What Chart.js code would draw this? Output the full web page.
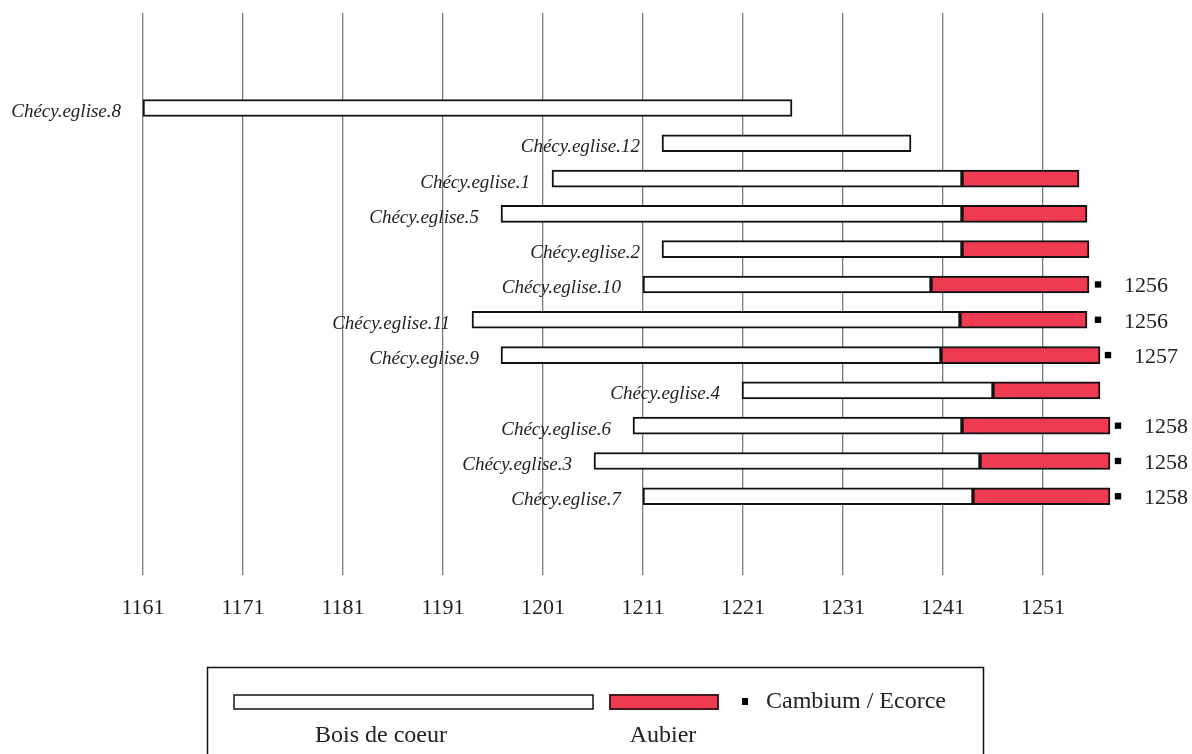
<!DOCTYPE html>
<html>
<head>
<meta charset="utf-8">
<title>Chécy - église</title>
<script src="https://cdn.jsdelivr.net/npm/chart.js@4/dist/chart.umd.min.js"></script>
<style>
  html, body { margin: 0; padding: 0; background: #fff; }
  #wrap { width: 1192px; height: 754px; overflow: hidden; }
</style>
</head>
<body>
<div id="wrap"><canvas id="chart" width="1192" height="754"></canvas></div>
<script>
// samples, top to bottom
const samples = ['Chécy.eglise.8', 'Chécy.eglise.12', 'Chécy.eglise.1', 'Chécy.eglise.5',
  'Chécy.eglise.2', 'Chécy.eglise.10', 'Chécy.eglise.11', 'Chécy.eglise.9',
  'Chécy.eglise.4', 'Chécy.eglise.6', 'Chécy.eglise.3', 'Chécy.eglise.7'];

// heartwood (bois de coeur) first / last year
const heartStart = [1161, 1212.9, 1201.9, 1196.8, 1212.9, 1211, 1193.9, 1196.8, 1220.9, 1210, 1206.1, 1211];
const heartEnd   = [1225.9, 1237.8, 1242.9, 1242.9, 1242.9, 1239.8, 1242.7, 1240.8, 1246, 1242.9, 1244.7, 1244];
// sapwood (aubier) last year, null = no sapwood
const sapEnd     = [null, null, 1254.6, 1255.4, 1255.6, 1255.6, 1255.4, 1256.7, 1256.7, 1257.7, 1257.7, 1257.7];
// cambium / bark felling years, null = none
const cambiumYear = [null, null, null, null, null, 1256, 1256, 1257, null, 1258, 1258, 1258];

const yearTicks = [1161, 1171, 1181, 1191, 1201, 1211, 1221, 1231, 1241, 1251];

const SAP_RED = '#EE3B52';

const heartData = samples.map((s, i) => ({ x: [heartStart[i], heartEnd[i]], y: i }));
const sapData = [];
samples.forEach((s, i) => { if (sapEnd[i] != null) sapData.push({ x: [heartEnd[i], sapEnd[i]], y: i }); });
const cambiumData = [];
samples.forEach((s, i) => {
  // mark drawn in the middle of the ring year
  if (cambiumYear[i] != null) cambiumData.push({ x: cambiumYear[i] + 0.5, y: i, year: cambiumYear[i] });
});

// sample names left of each bar, felling years right of the markers
const labelsPlugin = {
  id: 'labelsPlugin',
  afterDatasetsDraw(chart) {
    const ctx = chart.ctx, xs = chart.scales.x, ys = chart.scales.y;
    ctx.save();
    ctx.fillStyle = '#222';
    ctx.font = 'italic 19px "Liberation Serif", serif';
    ctx.textAlign = 'right';
    ctx.textBaseline = 'middle';
    samples.forEach((name, i) => {
      ctx.fillText(name, xs.getPixelForValue(heartStart[i]) - 22, ys.getPixelForValue(i) + 4);
    });
    ctx.font = '22px "Liberation Serif", serif';
    ctx.textAlign = 'left';
    cambiumData.forEach(p => {
      ctx.fillText(String(p.year), xs.getPixelForValue(p.x) + 26, ys.getPixelForValue(p.y) + 2);
    });
    ctx.restore();
  }
};

// boxed legend under the axis
const legendBox = {
  id: 'legendBox',
  afterDraw(chart) {
    const ctx = chart.ctx;
    ctx.save();
    ctx.strokeStyle = '#111';
    ctx.lineWidth = 1.5;
    ctx.strokeRect(207.5, 667.5, 776, 100);

    ctx.fillStyle = '#fff';
    ctx.fillRect(233, 694, 361, 16);
    ctx.strokeRect(234, 695, 359, 14);
    ctx.fillStyle = SAP_RED;
    ctx.fillRect(609, 694, 110, 16);
    ctx.strokeRect(610, 695, 108, 14);
    ctx.fillStyle = '#000';
    ctx.fillRect(742, 698, 6, 7);

    ctx.fillStyle = '#222';
    ctx.font = '24px "Liberation Serif", serif';
    ctx.textBaseline = 'middle';
    ctx.textAlign = 'left';
    ctx.fillText('Cambium / Ecorce', 766, 702);
    ctx.textAlign = 'center';
    ctx.fillText('Bois de coeur', 381, 736);
    ctx.fillText('Aubier', 663, 736);
    ctx.restore();
  }
};

const barStyle = { barThickness: 17, grouped: false, borderColor: '#111', borderWidth: 2, borderSkipped: false };

new Chart(document.getElementById('chart'), {
  type: 'bar',
  data: {
    datasets: [
      Object.assign({ label: 'Bois de coeur', data: heartData, backgroundColor: '#fff' }, barStyle),
      Object.assign({ label: 'Aubier', data: sapData, backgroundColor: SAP_RED }, barStyle),
      {
        type: 'scatter', label: 'Cambium / Ecorce', data: cambiumData,
        pointStyle: 'rect', pointRadius: 4.5, backgroundColor: '#000', borderWidth: 0, showLine: false
      }
    ]
  },
  options: {
    indexAxis: 'y',
    responsive: false,
    animation: false,
    layout: { padding: { left: 143, right: 49, top: 13, bottom: 0 } },
    plugins: { legend: { display: false }, tooltip: { enabled: false } },
    scales: {
      x: {
        type: 'linear',
        position: 'bottom',
        min: 1161,
        max: 1261,
        afterBuildTicks: s => { s.ticks = yearTicks.map(v => ({ value: v })); },
        afterFit: s => { s.height = 179; },
        grid: { color: '#7a7a7a', lineWidth: 1.3, drawTicks: false },
        border: { display: false },
        ticks: {
          padding: 20,
          color: '#222',
          font: { family: '"Liberation Serif", serif', size: 22 },
          callback: v => String(v),
          maxRotation: 0,
          autoSkip: false
        }
      },
      y: {
        type: 'linear',
        reverse: true,
        offset: false,
        min: -2.69,
        max: 13.23,
        display: false
      }
    }
  },
  plugins: [labelsPlugin, legendBox]
});
</script>
</body>
</html>
